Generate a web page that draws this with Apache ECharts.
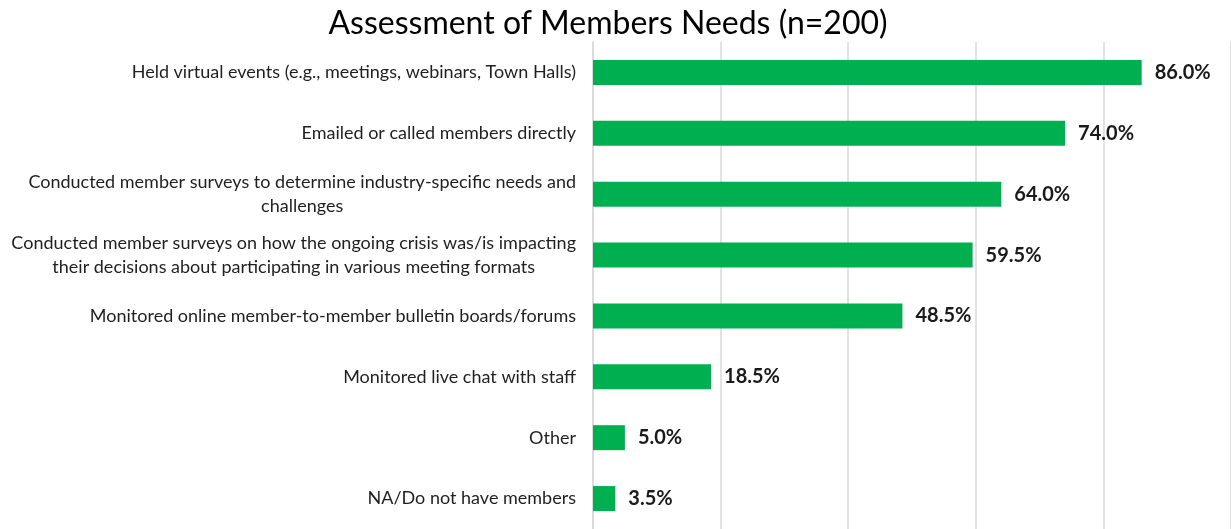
<!DOCTYPE html>
<html>
<head>
<meta charset="utf-8">
<script src="https://cdn.jsdelivr.net/npm/echarts@6/dist/echarts.min.js"></script>
<style>
html,body{margin:0;padding:0;background:#fff;}
#chart{width:1231px;height:529px;}
</style>
</head>
<body>
<div id="chart"></div>
<script>
const titleText = 'Assessment of Members Needs (n=200)';
const categories = [
  'Held virtual events (e.g., meetings, webinars, Town Halls)',
  'Emailed or called members directly',
  'Conducted member surveys to determine industry-specific needs and\nchallenges',
  'Conducted member surveys on how the ongoing crisis was/is impacting\ntheir decisions about participating in various meeting formats',
  'Monitored online member-to-member bulletin boards/forums',
  'Monitored live chat with staff',
  'Other',
  'NA/Do not have members'
];
const values = [86.0, 74.0, 64.0, 59.5, 48.5, 18.5, 5.0, 3.5];
const xTicks = [0, 20, 40, 60, 80, 100];

const FONT = 'Lato';
const chart = echarts.init(document.getElementById('chart'));
chart.setOption({
  animation: false,
  backgroundColor: '#ffffff',
  title: {
    text: titleText,
    left: 603, textAlign: 'center',
    top: 3,
    textStyle: {fontFamily: FONT, fontSize: 32, fontWeight: 'normal', color: '#000000'}
  },
  grid: {left: 593, right: -3, top: 42, bottom: -4, containLabel: false},
  xAxis: {
    type: 'value', min: xTicks[0], max: xTicks[xTicks.length-1], interval: 20,
    axisLabel: {show: false}, axisLine: {show: false}, axisTick: {show: false},
    splitLine: {show: true, lineStyle: {color: '#D9D9D9', width: 1.5}}
  },
  yAxis: {
    type: 'category', inverse: true, data: categories,
    axisLine: {show: true, lineStyle: {color: '#D9D9D9', width: 1.5}},
    axisTick: {show: false},
    axisLabel: {
      margin: 17, color: '#1f1f1f', fontFamily: FONT, fontSize: 18, lineHeight: 24,
      formatter: function (v) { return v.split('\n').map(s => '{c|' + s + '}').join('\n'); },
      rich: {c: {align: 'center', fontFamily: FONT, fontSize: 18, lineHeight: 24, color: '#1f1f1f'}}
    }
  },
  series: [{
    type: 'bar', data: values, barWidth: 25,
    itemStyle: {color: '#00B050'},
    label: {
      show: true, position: 'right', distance: 13,
      formatter: p => p.value.toFixed(1) + '%',
      fontFamily: FONT, fontSize: 20, fontWeight: 'bold', color: '#1a1a1a'
    }
  }]
});
</script>
</body>
</html>
